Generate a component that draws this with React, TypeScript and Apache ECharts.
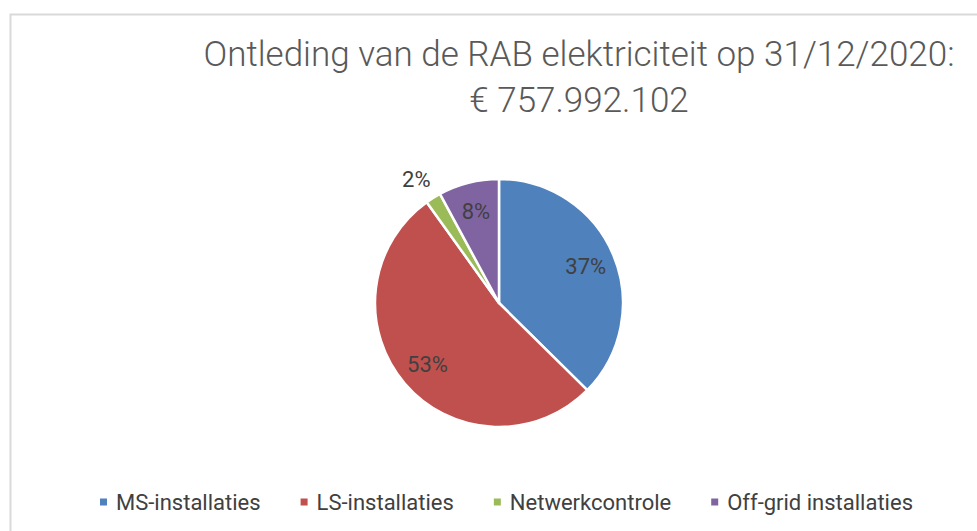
import React, { useEffect, useRef } from "react";
import * as echarts from "echarts";

const titleLines = ["Ontleding van de RAB elektriciteit op 31/12/2020:", "€ 757.992.102"];
const categories = ["MS-installaties", "LS-installaties", "Netwerkcontrole", "Off-grid installaties"];
const shares = [37.4, 52.7, 2.0, 7.9];
const colors = ["#4F81BD", "#C0504D", "#9BBB59", "#8064A2"];
const outsideLabelCategories = ["Netwerkcontrole"];

export default function App() {
  const ref = useRef<HTMLDivElement>(null);
  useEffect(() => {
    if (!ref.current) return;
    const chart = echarts.init(ref.current, undefined, { renderer: "svg" });
    const fmt = (p: any) => Math.round(p.percent) + "%";
    const labelFont = { fontFamily: "Roboto", fontSize: 22, color: "#404040" };
    const center = [499, 303];
    chart.setOption({
      animation: false,
      backgroundColor: "#ffffff",
      color: colors,
      graphic: [
        {
          type: "rect",
          left: 8,
          top: 12,
          shape: { width: 1000, height: 600 },
          style: { fill: "none", stroke: "#D9D9D9", lineWidth: 2 },
          silent: true,
        },
      ],
      title: {
        text: titleLines.join("\n"),
        left: 574,
        top: 26,
        textAlign: "center",
        textStyle: {
          fontFamily: "Roboto",
          fontWeight: 300,
          fontSize: 35,
          lineHeight: 46,
          color: "#595959",
        },
      },
      legend: {
        data: categories,
        left: 93,
        top: 486,
        itemWidth: 9,
        itemHeight: 9,
        itemGap: 38,
        icon: "rect",
        textStyle: { ...labelFont, padding: [0, 0, 0, 3] },
      },
      series: [
        {
          type: "pie",
          center,
          radius: [0, 124],
          startAngle: 90,
          clockwise: true,
          silent: true,
          itemStyle: { borderColor: "#ffffff", borderWidth: 2.5 },
          label: { show: false },
          labelLine: { show: false },
          data: categories.map((name, i) => {
            const outside = outsideLabelCategories.includes(name);
            return {
              name,
              value: shares[i],
              label: outside
                ? {
                    show: true,
                    position: "outside",
                    formatter: fmt,
                    distanceToLabelLine: -9,
                    ...labelFont,
                  }
                : { show: false },
              labelLine: outside ? { show: false, length: 22, length2: 0 } : { show: false },
            };
          }),
        },
        {
          type: "pie",
          center,
          radius: [0, 182],
          startAngle: 90,
          clockwise: true,
          silent: true,
          legendHoverLink: false,
          itemStyle: { color: "rgba(0,0,0,0)" },
          labelLine: { show: false },
          data: categories.map((name, i) => ({
            name,
            value: shares[i],
            label: {
              show: !outsideLabelCategories.includes(name),
              position: "inside",
              formatter: fmt,
              ...labelFont,
            },
          })),
        },
      ],
    });
    return () => chart.dispose();
  }, []);
  return (
    <div
      ref={ref}
      style={{ position: "absolute", left: 0, top: 0, width: 977, height: 531 }}
    />
  );
}
